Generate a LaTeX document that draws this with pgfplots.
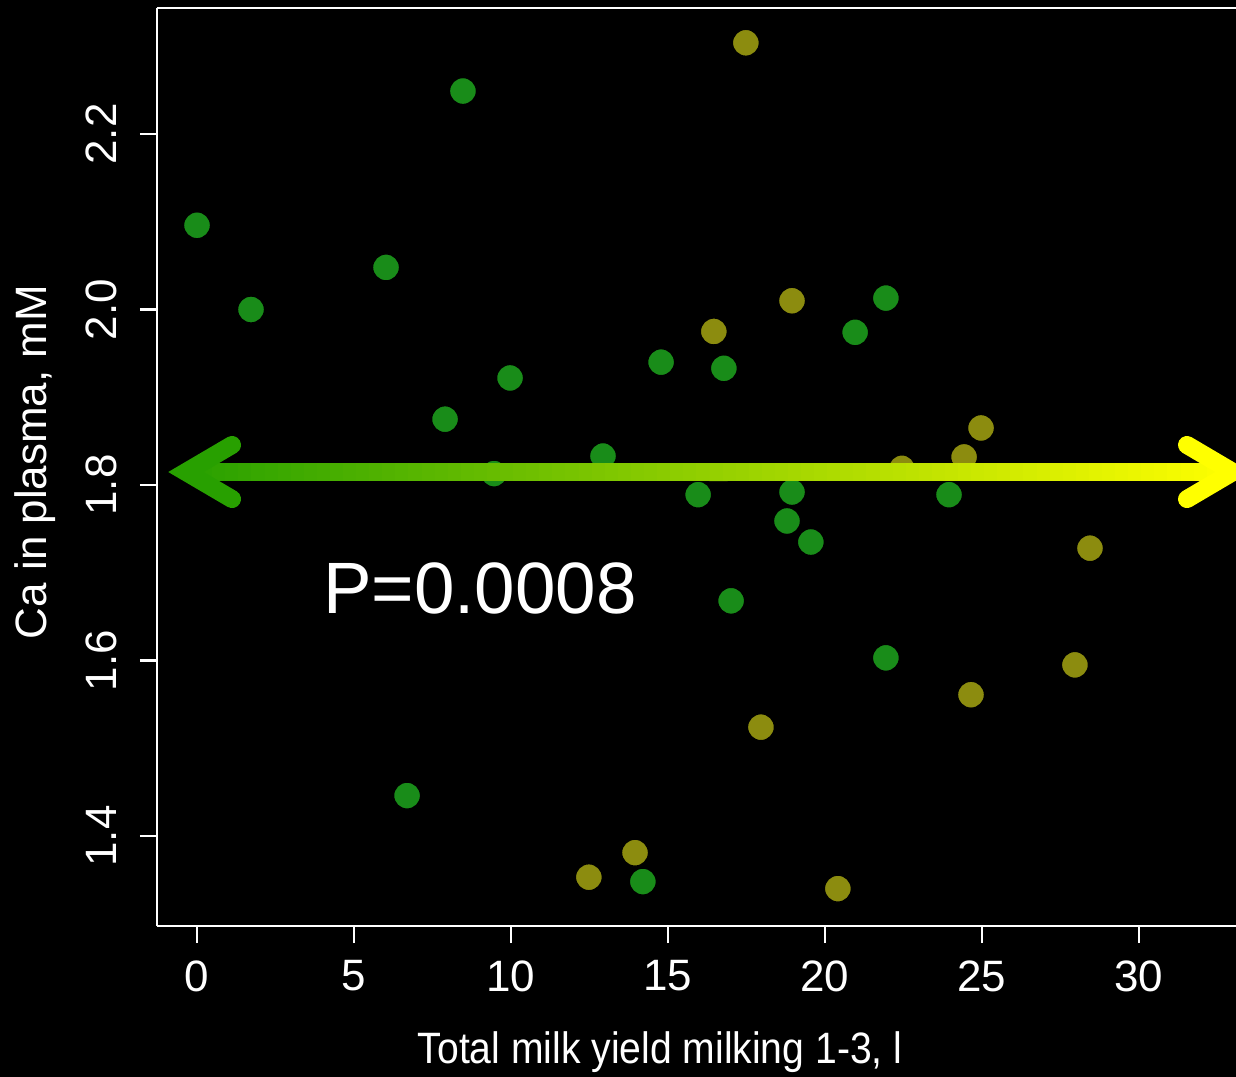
\documentclass[border=0pt]{standalone}
\usepackage{fontspec}
\setmainfont{Liberation Sans}
\usepackage{xcolor}
\usepackage{pgfplots}
\pgfplotsset{compat=1.18}
\usetikzlibrary{calc}

\definecolor{ptgreen}{RGB}{25,140,25}
\definecolor{ptolive}{RGB}{140,140,15}
\definecolor{arrgreen}{RGB}{40,160,0}
\definecolor{arryellow}{RGB}{255,255,0}
\newcommand{\ticfont}{\fontsize{12.5}{15}\selectfont}

\begin{document}
\begin{tikzpicture}
\fill[black] (-44.67pt,-42.96pt) rectangle (306.98pt,263.45pt);
\begin{axis}[at={(0,0)}, anchor=south west, scale only axis,
  width=306.98pt, height=261.17pt,
  xmin=-1.274, xmax=33.09, ymin=1.2974, ymax=2.3436,
  axis lines*=left, axis line style={white, line width=0.6pt},
  tick align=outside, major tick length=4.84pt, tick style={white, line width=0.6pt},
  xtick={0,5,10,15,20,25,30}, xticklabels={0,5,10,15,20,25,30},
  ytick={1.4,1.6,1.8,2.0,2.2}, yticklabels={1.4,1.6,1.8,2.0,2.2},
  xticklabel style={font=\ticfont, text=white, anchor=north, inner sep=0pt},
  yticklabel style={font=\ticfont, text=white, rotate=90, anchor=base, inner sep=0pt},
  xticklabel shift=4.8pt, yticklabel shift=6.8pt,
  xlabel={Total milk yield milking 1-3, l}, ylabel={Ca in plasma, mM},
  xlabel style={at={(axis description cs:0.4662,-0.14926)}, anchor=base, font=\ticfont, text=white, xscale=0.89, inner sep=0pt},
  ylabel style={at={(axis description cs:-0.1020,0.5054)}, anchor=base, font=\ticfont, text=white, inner sep=0pt},
  clip=false]
% green group
\addplot[only marks, mark=*, mark size=3.85pt, mark options={draw=none, fill=ptgreen}] coordinates {
 (0,2.096) (1.72,2.000) (8.47,2.249) (6.02,2.048) (7.90,1.875) (9.97,1.922)
 (9.46,1.813) (12.93,1.833) (14.78,1.940) (16.78,1.933) (15.96,1.789) (17.01,1.668)
 (18.79,1.759) (18.95,1.792) (19.55,1.735) (20.96,1.974) (21.94,2.013) (21.94,1.603)
 (23.95,1.789) (6.69,1.446) (14.20,1.348)};
% olive group
\addplot[only marks, mark=*, mark size=3.85pt, mark options={draw=none, fill=ptolive}] coordinates {
 (17.48,2.304) (16.46,1.975) (18.95,2.010) (22.45,1.819) (24.43,1.832) (24.97,1.865)
 (28.44,1.728) (27.96,1.595) (24.65,1.561) (17.96,1.524) (12.48,1.353) (13.95,1.381)
 (20.41,1.340)};
\draw[white, line width=0.6pt] (rel axis cs:0,1) -- (rel axis cs:1,1);
\coordinate (AL) at (axis cs:-0.35,1.8148);
\coordinate (AR) at (axis cs:32.99,1.8148);
\coordinate (ALu) at (axis cs:1.115,1.8456);
\coordinate (ALd) at (axis cs:1.115,1.784);
\coordinate (ARu) at (axis cs:31.53,1.8456);
\coordinate (ARd) at (axis cs:31.53,1.784);
\node[text=white, font=\fontsize{20.7}{24}\selectfont, anchor=base, inner sep=0pt] at (axis cs:9.01,1.653) {P=0.0008};
\end{axis}
% gradient arrow
\foreach \i in {0,...,79} {
  \pgfmathsetmacro\ta{\i/80}
  \pgfmathsetmacro\tb{min(1,(\i+1.4)/80)}
  \pgfmathsetmacro\p{100*(\i+0.5)/80}
  \draw[line width=5.12pt, color=arryellow!\p!arrgreen] ($(AL)!\ta!(AR)$) -- ($(AL)!\tb!(AR)$);
}
\draw[arrgreen, line width=5.12pt, line cap=round, line join=miter] (ALu) -- (AL) -- (ALd);
\draw[arryellow, line width=5.12pt, line cap=round, line join=miter] (ARu) -- (AR) -- (ARd);
\pgfresetboundingbox
\useasboundingbox (-44.67pt,-42.96pt) rectangle (306.98pt,263.45pt);
\end{tikzpicture}
\end{document}
